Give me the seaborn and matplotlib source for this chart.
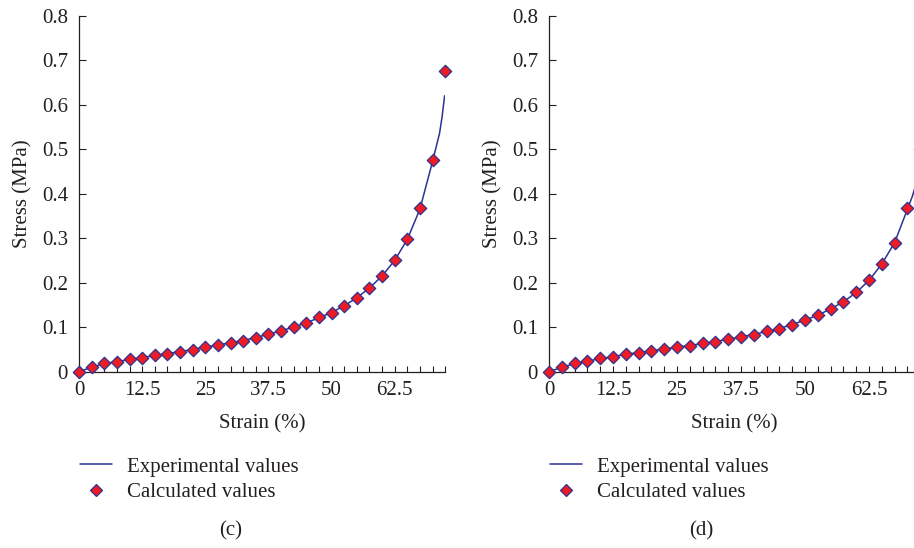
import matplotlib
matplotlib.use("Agg")
import matplotlib.pyplot as plt
import seaborn as sns
from matplotlib.lines import Line2D
from matplotlib.ticker import MultipleLocator, FixedLocator

# strain (%) at which calculated values are given
strain_calc = [0, 2.5, 5, 7.5, 10, 12.5, 15, 17.5, 20, 22.5, 25, 27.5, 30, 32.5, 35,
               37.5, 40, 42.5, 45, 47.5, 50, 52.5, 55, 57.5, 60, 62.5, 65, 67.5, 70, 72.5]

# panel (c)
stress_calc_c = [0, 0.011, 0.019, 0.022, 0.028, 0.031, 0.037, 0.040, 0.045, 0.049,
                 0.055, 0.060, 0.065, 0.070, 0.075, 0.085, 0.092, 0.100, 0.110, 0.122,
                 0.131, 0.148, 0.166, 0.187, 0.215, 0.250, 0.299, 0.367, 0.475, 0.675]
strain_exp_c = [0, 2.5, 5, 7.5, 10, 12.5, 15, 17.5, 20, 22.5, 25, 27.5, 30, 32.5, 35,
                37.5, 40, 42.5, 45, 47.5, 50, 52.5, 55, 57.5, 60, 62.5, 65, 67.5, 70,
                71.4, 71.9, 72.4]
stress_exp_c = [0, 0.010, 0.018, 0.023, 0.027, 0.032, 0.036, 0.041, 0.045, 0.050,
                0.055, 0.060, 0.065, 0.070, 0.077, 0.084, 0.092, 0.100, 0.110, 0.121,
                0.133, 0.148, 0.166, 0.188, 0.215, 0.250, 0.297, 0.365, 0.472,
                0.536, 0.573, 0.620]

# panel (d)
stress_calc_d = [0, 0.010, 0.019, 0.025, 0.030, 0.034, 0.040, 0.043, 0.047, 0.050,
                 0.055, 0.058, 0.064, 0.067, 0.073, 0.079, 0.083, 0.091, 0.097, 0.106,
                 0.116, 0.128, 0.141, 0.157, 0.178, 0.205, 0.243, 0.290, 0.367, 0.500]
strain_exp_d = [0, 2.5, 5, 7.5, 10, 12.5, 15, 17.5, 20, 22.5, 25, 27.5, 30, 32.5, 35,
                37.5, 40, 42.5, 45, 47.5, 50, 52.5, 55, 57.5, 60, 62.5, 65, 67.5, 70,
                71.0, 71.9, 72.5]
stress_exp_d = [0, 0.010, 0.018, 0.024, 0.029, 0.034, 0.039, 0.043, 0.047, 0.051,
                0.055, 0.059, 0.063, 0.068, 0.073, 0.078, 0.084, 0.090, 0.097, 0.106,
                0.116, 0.127, 0.141, 0.157, 0.178, 0.205, 0.242, 0.290, 0.365,
                0.395, 0.431, 0.460]

x_major = [0, 12.5, 25, 37.5, 50, 62.5]
x_labels = ["0", "12.5", "25", "37.5", "50", "62.5"]
y_ticks = [0, 0.1, 0.2, 0.3, 0.4, 0.5, 0.6, 0.7, 0.8]
y_labels = ["0", "0.1", "0.2", "0.3", "0.4", "0.5", "0.6", "0.7", "0.8"]

TEXT = "#231f20"
LINE = "#2e3192"
RED = "#ed1c24"

sns.set_style("ticks")
plt.rcParams['font.family'] = ['Liberation Serif', 'DejaVu Serif']
plt.rcParams['text.color'] = TEXT
plt.rcParams['axes.labelcolor'] = TEXT
plt.rcParams['xtick.color'] = TEXT
plt.rcParams['ytick.color'] = TEXT

FS = 15
W, H = 914, 548
fig = plt.figure(figsize=(W / 100, H / 100), dpi=100)


def panel(left_px, px_per_pct, strain_exp, stress_exp, stress_calc, tag, legend_x, tag_x):
    width_px = 72.5 * px_per_pct
    ax = fig.add_axes([left_px / W, (H - 371.7) / H, width_px / W, 356 / H])
    sns.lineplot(x=strain_exp, y=stress_exp, ax=ax, color=LINE, linewidth=1.1,
                 sort=False, legend=False)
    sns.scatterplot(x=strain_calc, y=stress_calc, ax=ax, marker='D', s=40,
                    color=RED, edgecolor=LINE, linewidth=0.9, zorder=3,
                    clip_on=False, legend=False)
    ax.set_xlim(0, 72.5)
    ax.set_ylim(0, 0.8)
    ax.xaxis.set_major_locator(FixedLocator(x_major))
    ax.set_xticklabels(x_labels)
    ax.xaxis.set_minor_locator(MultipleLocator(2.5))
    ax.set_yticks(y_ticks)
    ax.set_yticklabels(y_labels)
    ax.tick_params(axis='x', which='both', direction='in', length=4, width=0.8,
                   pad=7, labelsize=FS)
    ax.tick_params(axis='y', direction='in', length=5, width=0.8, pad=8,
                   labelsize=FS)
    for s in ['top', 'right']:
        ax.spines[s].set_visible(False)
    for s in ['left', 'bottom']:
        ax.spines[s].set_color(TEXT)
        ax.spines[s].set_linewidth(0.9)
    ax.set_xlabel("Strain (%)", fontsize=FS, labelpad=10)
    ax.set_ylabel("Stress (MPa)", fontsize=FS, labelpad=7)

    handles = [
        Line2D([0], [0], color=LINE, linewidth=1.1, label="Experimental values"),
        Line2D([0], [0], linestyle='none', marker='D', markersize=6.3,
               markerfacecolor=RED, markeredgecolor=LINE, markeredgewidth=0.9,
               label="Calculated values"),
    ]
    ax.legend(handles=handles, loc='upper left',
              bbox_to_anchor=(legend_x / W, 1 - 457 / H),
              bbox_transform=fig.transFigure, frameon=False, fontsize=FS,
              handlelength=1.55, handletextpad=0.7, labelspacing=0.3,
              borderpad=0, borderaxespad=0)
    fig.text(tag_x / W, 1 - 531 / H, tag, ha='center', va='center', fontsize=FS)
    return ax


panel(79, 5.05, strain_exp_c, stress_exp_c, stress_calc_c, "(c)", 80, 231)
panel(549, 5.12, strain_exp_d, stress_exp_d, stress_calc_d, "(d)", 550, 701)

fig.savefig("out.png", dpi=100)
